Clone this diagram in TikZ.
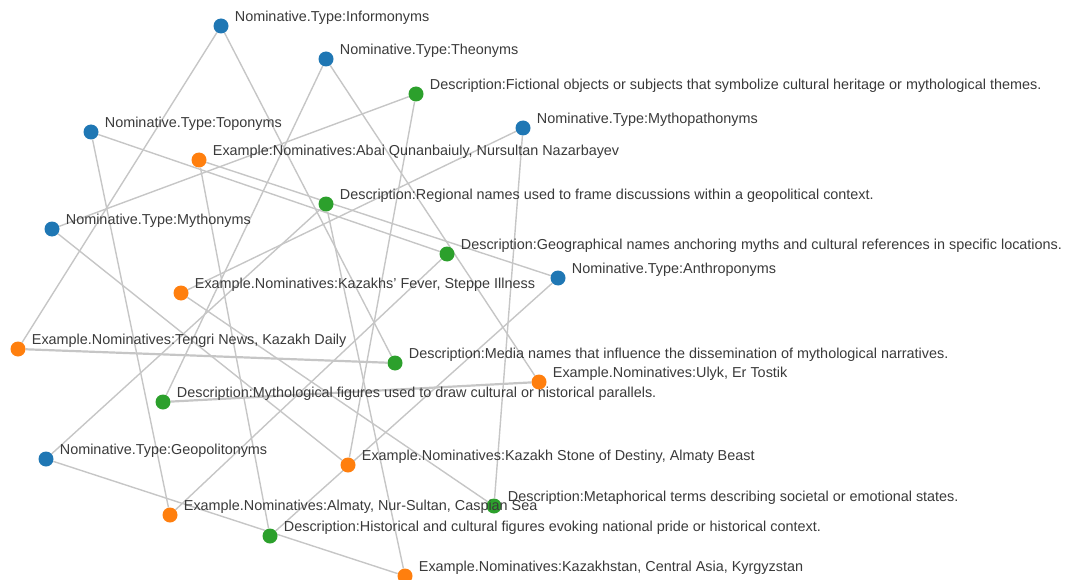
\documentclass[tikz,border=0pt]{standalone}
\usepackage{fontspec}
\setmainfont{Liberation Sans}
\usetikzlibrary{backgrounds}

\definecolor{typeblue}{HTML}{1F77B4}
\definecolor{descgreen}{HTML}{2CA02C}
\definecolor{exorange}{HTML}{FF7F0E}
\definecolor{linkgray}{HTML}{C6C6C6}
\definecolor{textgray}{HTML}{3A3A3A}

\tikzset{
  dot/.style={circle, minimum size=15pt, inner sep=0pt},
  typedot/.style={dot, fill=typeblue},
  descdot/.style={dot, fill=descgreen},
  exdot/.style={dot, fill=exorange},
  lbl/.style={text=textgray, font=\fontsize{14.4}{16}\selectfont, inner sep=0pt, xshift=6pt, yshift=8pt},
  link/.style={draw=linkgray, line width=1.4pt},
  dbllink/.style={link, line width=2.2pt},
}

\begin{document}
\begin{tikzpicture}[x=1pt, y=-1pt]
\useasboundingbox (0,0) rectangle (1067,580);
% nodes Nominative.Type
\node[typedot, label={[lbl]east:Nominative.Type:Informonyms}] (inform) at (221,26) {};
\node[typedot, label={[lbl]east:Nominative.Type:Theonyms}] (theo) at (326,59) {};
\node[typedot, label={[lbl]east:Nominative.Type:Toponyms}] (topo) at (91,132) {};
\node[typedot, label={[lbl]east:Nominative.Type:Mythopathonyms}] (mythpath) at (523,128) {};
\node[typedot, label={[lbl]east:Nominative.Type:Mythonyms}] (mytho) at (52,229) {};
\node[typedot, label={[lbl]east:Nominative.Type:Anthroponyms}] (anthro) at (558,278) {};
\node[typedot, label={[lbl]east:Nominative.Type:Geopolitonyms}] (geopol) at (46,459) {};
% nodes Description
\node[descdot, label={[lbl]east:Description:Fictional objects or subjects that symbolize cultural heritage or mythological themes.}] (dfict) at (416,94) {};
\node[descdot, label={[lbl]east:Description:Regional names used to frame discussions within a geopolitical context.}] (dregion) at (326,204) {};
\node[descdot, label={[lbl]east:Description:Geographical names anchoring myths and cultural references in specific locations.}] (dgeo) at (447,254) {};
\node[descdot, label={[lbl]east:Description:Media names that influence the dissemination of mythological narratives.}] (dmedia) at (395,363) {};
\node[descdot, label={[lbl]east:Description:Mythological figures used to draw cultural or historical parallels.}] (dmyth) at (163,402) {};
\node[descdot, label={[lbl]east:Description:Metaphorical terms describing societal or emotional states.}] (dmeta) at (494,506) {};
\node[descdot, label={[lbl]east:Description:Historical and cultural figures evoking national pride or historical context.}] (dhist) at (270,536) {};
% nodes Example
\node[exdot, label={[lbl]east:Example:Nominatives:Abai Qunanbaiuly, Nursultan Nazarbayev}] (eabai) at (199,160) {};
\node[exdot, label={[lbl]east:Example.Nominatives:Kazakhs' Fever, Steppe Illness}] (efever) at (181,293) {};
\node[exdot, label={[lbl]east:Example.Nominatives:Tengri News, Kazakh Daily}] (etengri) at (18,349) {};
\node[exdot, label={[lbl]east:Example.Nominatives:Ulyk, Er Tostik}] (eulyk) at (539,382) {};
\node[exdot, label={[lbl]east:Example.Nominatives:Kazakh Stone of Destiny, Almaty Beast}] (estone) at (348,465) {};
\node[exdot, label={[lbl]east:Example.Nominatives:Almaty, Nur-Sultan, Caspian Sea}] (ealmaty) at (170,515) {};
\node[exdot, label={[lbl]east:Example.Nominatives:Kazakhstan, Central Asia, Kyrgyzstan}] (ekaz) at (405,576) {};
%% links
\begin{scope}[on background layer]
\draw[link] (inform) -- (dmedia);
\draw[link] (inform) -- (etengri);
\draw[dbllink] (etengri) -- (dmedia);
\draw[link] (theo) -- (dmyth);
\draw[link] (theo) -- (eulyk);
\draw[dbllink] (dmyth) -- (eulyk);
\draw[link] (topo) -- (dgeo);
\draw[link] (topo) -- (ealmaty);
\draw[link] (dgeo) -- (ealmaty);
\draw[link] (mythpath) -- (dmeta);
\draw[link] (mythpath) -- (efever);
\draw[link] (efever) -- (dmeta);
\draw[link] (mytho) -- (dfict);
\draw[link] (mytho) -- (estone);
\draw[link] (dfict) -- (estone);
\draw[link] (anthro) -- (dhist);
\draw[link] (anthro) -- (eabai);
\draw[link] (eabai) -- (dhist);
\draw[link] (geopol) -- (dregion);
\draw[link] (geopol) -- (ekaz);
\draw[link] (dregion) -- (ekaz);
\end{scope}
\end{tikzpicture}
\end{document}
